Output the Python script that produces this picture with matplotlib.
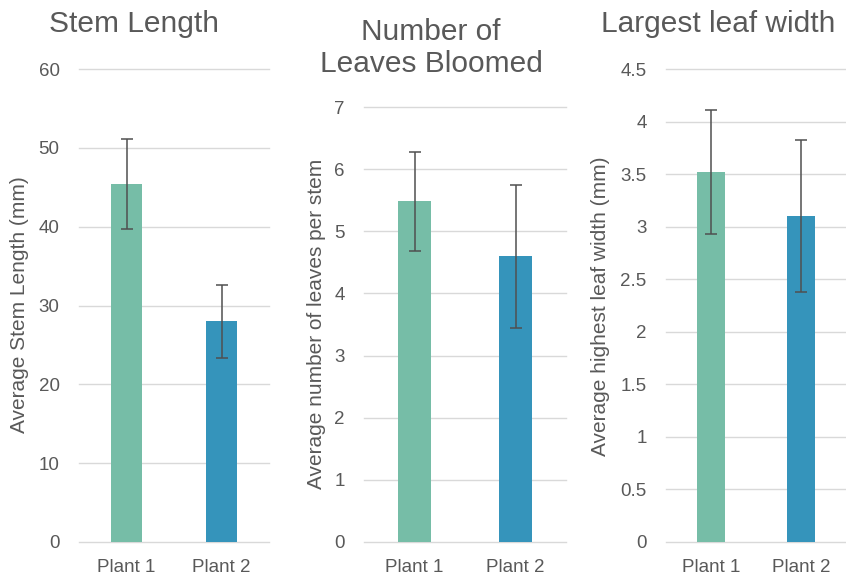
import numpy as np
import matplotlib
matplotlib.use("Agg")
import matplotlib.pyplot as plt

# -------------------
# Data
# -------------------
plants = ["Plant 1", "Plant 2"]

stem_mean = [45.4, 28.0]
stem_err = [5.7, 4.6]

leaves_mean = [5.48, 4.60]
leaves_err = [0.80, 1.15]

width_mean = [3.52, 3.10]
width_err = [0.59, 0.72]

bar_colors = ["#76BDA7", "#3594BB"]
text_color = "#595959"

plt.rcParams["font.family"] = ["Liberation Sans", "DejaVu Sans"]

W, H = 846, 578
fig = plt.figure(figsize=(W / 100, H / 100), dpi=100)


def px_axes(left, right, top, bottom):
    return fig.add_axes([left / W, 1 - bottom / H, (right - left) / W, (bottom - top) / H])


panels = [
    # values, errors, ymax, step, ylabel, title, axes box, title pos (last baseline), ylabel pos
    (stem_mean, stem_err, 60, 10, "Average Stem Length (mm)", "Stem Length",
     (79, 269, 69, 542), (134, 32), (20, 305)),
    (leaves_mean, leaves_err, 7, 1, "Average number of leaves per stem", "Number of\nLeaves Bloomed",
     (364, 566, 107, 542), (431, 72), (316, 324)),
    (width_mean, width_err, 4.5, 0.5, "Average highest leaf width (mm)", "Largest leaf width",
     (666, 846, 69, 542), (718, 32), (601, 306)),
]

for vals, errs, ymax, step, ylab, title, box, tpos, lpos in panels:
    ax = px_axes(*box)
    x = np.arange(len(plants))
    ax.bar(x, vals, width=0.32, color=bar_colors, zorder=2)
    ax.errorbar(x, vals, yerr=errs, fmt="none", ecolor="#505050",
                elinewidth=1.1, capsize=4, capthick=1.1, zorder=3)

    ax.set_xlim(-0.5, 1.5)
    ax.set_ylim(0, ymax)
    ticks = np.arange(0, ymax + step / 2, step)
    ax.set_yticks(ticks)
    ax.set_yticklabels([f"{t:g}" for t in ticks])
    ax.set_xticks(x)
    ax.set_xticklabels(plants)

    ax.yaxis.grid(True, color="#D9D9D9", linewidth=1.0, zorder=0)
    ax.set_axisbelow(True)
    for s in ax.spines.values():
        s.set_visible(False)
    for gl in ax.get_ygridlines():
        gl.set_clip_on(False)

    ax.tick_params(axis="both", length=0, labelsize=13.5, labelcolor=text_color)
    ax.tick_params(axis="y", pad=14)
    ax.tick_params(axis="x", pad=12)

    ax.set_ylabel(ylab, fontsize=15, color=text_color)
    ax.yaxis.set_label_coords(lpos[0] / W, 1 - lpos[1] / H, transform=fig.transFigure)
    ax.yaxis.label.set_verticalalignment("center")

    fig.text(tpos[0] / W, 1 - tpos[1] / H, title, fontsize=21.5, color=text_color,
             ha="center", va="baseline", linespacing=1.2)

fig.savefig("out.png", dpi=100)
